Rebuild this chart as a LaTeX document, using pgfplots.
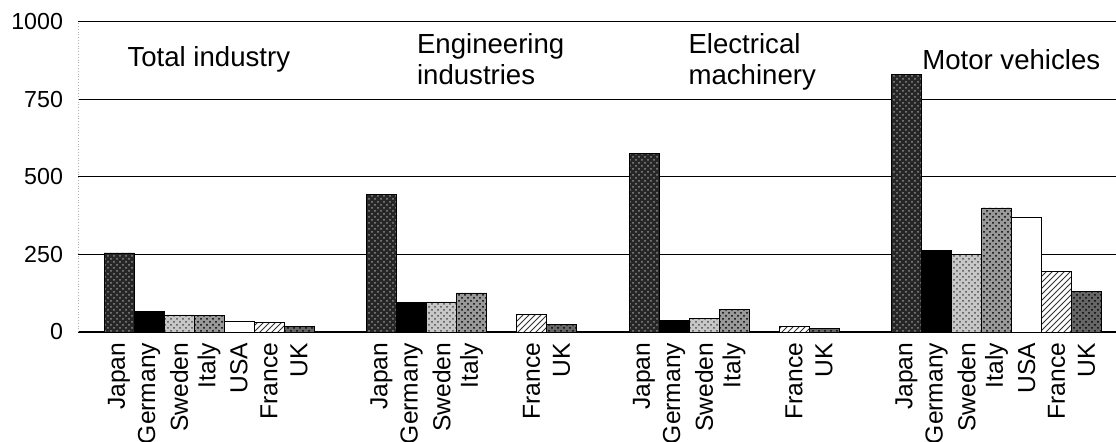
\documentclass[border=0pt]{standalone}
\usepackage{pgfplots}
\pgfplotsset{compat=1.18}
\usepackage{fontspec}
\setmainfont{Liberation Sans}
\usetikzlibrary{patterns}

\begin{document}
\begin{tikzpicture}
\path[use as bounding box] (-39pt,-55pt) rectangle (519pt,166pt);
\begin{axis}[
 at={(0pt,0pt)}, anchor=south west,
 scale only axis, width=519pt, height=155pt,
 xmin=-1.367, xmax=33.23, ymin=0, ymax=1000,
 ytick={0,250,500,750,1000},
 yticklabels={0,250,500,750,1000},
 ymajorgrids, grid style={black, line width=0.5pt},
 axis x line*=bottom, axis y line*=left,
 x axis line style={black, line width=0.6pt, -},
 y axis line style={gray!60, densely dotted, -},
 tick style={draw=none},
 xtick={0,1,2,3,4,5,6, 8.75,9.75,10.75,11.75,13.75,14.75, 17.5,18.5,19.5,20.5,22.5,23.5, 26.25,27.25,28.25,29.25,30.25,31.25,32.25},
 xticklabels={Japan,Germany,Sweden,Italy,USA,France,UK, Japan,Germany,Sweden,Italy,France,UK, Japan,Germany,Sweden,Italy,France,UK, Japan,Germany,Sweden,Italy,USA,France,UK},
 xticklabel style={rotate=90, anchor=east, inner sep=0pt, xshift=-1pt, font=\fontsize{12.3}{14}\selectfont},
 yticklabel style={font=\fontsize{11.6}{13}\selectfont, xshift=-4pt},
 /pgf/number format/assume math mode=true,
 ybar, bar width=1, bar shift=0pt,
 clip=false,
]
% Japan
\addplot[draw=black, fill=black!85, postaction={pattern=crosshatch dots, pattern color=black!45}, bar shift=0pt]
 coordinates {(0,255) (8.75,443) (17.5,575) (26.25,831)};
% Germany
\addplot[draw=black, fill=black, bar shift=0pt]
 coordinates {(1,66) (9.75,94) (18.5,37) (27.25,264)};
% Sweden
\addplot[draw=black, fill=black!22, postaction={pattern=crosshatch dots, pattern color=black!70}, bar shift=0pt]
 coordinates {(2,55) (10.75,97) (19.5,45) (28.25,250)};
% Italy
\addplot[draw=black, fill=black!40, postaction={pattern=crosshatch dots, pattern color=black}, bar shift=0pt]
 coordinates {(3,53) (11.75,126) (20.5,72) (29.25,400)};
% USA
\addplot[draw=black, fill=white, bar shift=0pt]
 coordinates {(4,34) (30.25,371)};
% France
\addplot[draw=black, fill=white, postaction={pattern=north east lines, pattern color=black!80}, bar shift=0pt]
 coordinates {(5,32) (13.75,56) (22.5,18) (31.25,194)};
% UK
\addplot[draw=black, fill=black!60, postaction={pattern=crosshatch dots, pattern color=black}, bar shift=0pt]
 coordinates {(6,18) (14.75,24) (23.5,10) (32.25,130)};

\node[anchor=west, inner sep=0pt, font=\fontsize{13.8}{15.5}\selectfont] at (axis cs:0.27,880) {Total industry};
\node[anchor=west, inner sep=0pt, text depth=0pt, align=left, font=\fontsize{13.8}{15.5}\selectfont] at (axis cs:9.92,880) {Engineering\\industries};
\node[anchor=west, inner sep=0pt, text depth=0pt, align=left, font=\fontsize{13.8}{15.5}\selectfont] at (axis cs:18.97,880) {Electrical\\machinery};
\node[anchor=west, inner sep=0pt, font=\fontsize{13.8}{15.5}\selectfont] at (axis cs:26.76,880) {Motor vehicles};
\end{axis}
\end{tikzpicture}
\end{document}
